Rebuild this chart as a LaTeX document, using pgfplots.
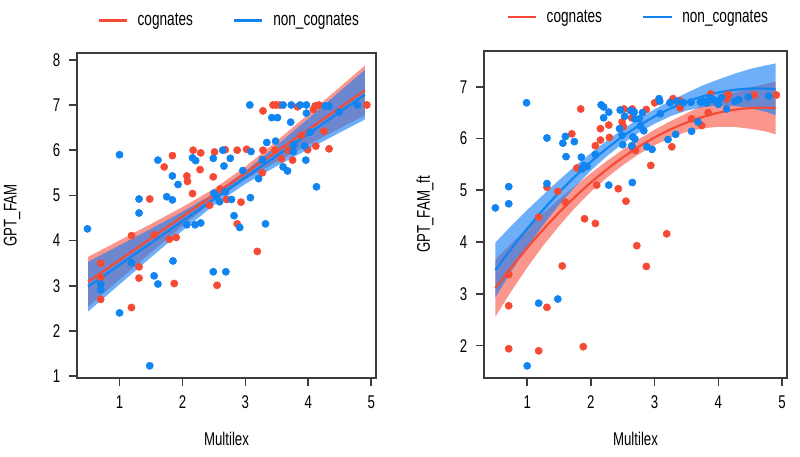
\documentclass[border=0pt]{standalone}
\usepackage{fontspec}
\setmainfont{Liberation Sans}[FakeStretch=0.72]
\usepackage{pgfplots}
\pgfplotsset{compat=1.18}

\definecolor{cogred}{RGB}{246,74,52}
\definecolor{nonblue}{RGB}{16,132,240}
\definecolor{redband}{RGB}{247,80,63}
\definecolor{blueband}{RGB}{21,126,247}
\definecolor{boxgray}{RGB}{60,60,60}

\pgfplotsset{
  panel/.style={
    scale only axis,
    clip=false,
    axis lines=box,
    axis line style={draw=boxgray, line width=1.3pt},
    tick style={draw=boxgray, line width=1.2pt},
    tick align=outside,
    major tick length=6pt,
    xtick pos=left, ytick pos=left,
    xtick={1,2,3,4,5},
    /pgf/number format/assume math mode=true,
    xticklabel style={yshift=-4pt},
    yticklabel style={xshift=-3pt},
    xlabel={Multilex},
    legend columns=2,
    legend image code/.code={\draw[##1] (0pt,0pt) -- (21pt,0pt);},
    legend style={draw=none, fill=none, anchor=center,
      font=\fontsize{14.2}{16}\selectfont,
      /tikz/every odd column/.append style={column sep=5pt},
      /tikz/every even column/.append style={column sep=28pt}},
  },
  pts/.style={only marks, mark=*, mark size=2.7pt, forget plot},
  band/.style={draw=none, forget plot, fill=#1},
  boxline/.style={boxgray, line width=1.3pt, forget plot},
}

\begin{document}
\begin{tikzpicture}[font=\fontsize{13.8}{16}\selectfont]

% ---------------- GPT_FAM against Multilex (linear fit) ----------------
\begin{axis}[panel,
  at={(57.75pt,59.25pt)}, anchor=south west,
  width=224.25pt, height=243.75pt,
  xmin=0.324, xmax=5.076, ymin=0.96, ymax=8.15,
  ytick={1,2,3,4,5,6,7,8},
  ylabel={GPT\_FAM},
  xlabel style={at={(axis description cs:0.5,-0.1877)}, anchor=center},
  ylabel style={at={(axis description cs:-0.2174,0.5)}, anchor=center},
  legend style={at={(axis description cs:0.51,1.10)}},
]
\addlegendimage{cogred, line width=2.2pt}
\addlegendentry{cognates}
\addlegendimage{nonblue, line width=2.2pt}
\addlegendentry{non\_cognates}

\addplot[pts, color=cogred] coordinates {
(0.70,3.50)(0.70,3.18)(0.70,2.70)(1.19,4.11)(1.19,2.52)(1.31,3.42)(1.31,3.17)
(1.48,4.92)(1.55,4.13)(1.71,5.63)(1.79,4.03)(1.84,5.88)(1.87,3.05)(1.90,4.07)
(2.07,5.43)(2.08,5.31)(2.16,5.04)(2.17,6.00)(2.28,5.57)(2.29,5.94)(2.43,4.78)
(2.49,5.41)(2.51,5.96)(2.55,3.01)(2.60,5.14)(2.68,6.01)(2.70,4.91)(2.87,6.00)
(2.87,4.37)(2.93,4.85)(3.02,6.02)(3.19,3.76)(3.27,5.50)(3.28,6.87)(3.28,6.00)
(3.44,7.00)(3.49,7.00)(3.55,7.00)(3.47,6.00)(3.57,5.81)(3.68,6.00)(3.75,5.78)
(3.83,6.96)(3.89,6.33)(3.99,6.01)(4.08,6.90)(4.11,6.98)(4.12,6.09)(4.17,7.00)
(4.25,6.42)(4.33,6.03)(4.93,7.00)
};
\addplot[pts, color=nonblue] coordinates {
(0.49,4.26)(0.70,3.04)(0.70,2.91)(1.00,5.90)(1.00,2.40)(1.19,3.51)(1.31,4.92)
(1.31,4.61)(1.48,1.23)(1.55,3.22)(1.61,3.04)(1.61,5.78)(1.75,4.97)(1.84,5.43)
(1.84,4.90)(1.85,3.55)(1.93,5.24)(2.07,4.35)(2.16,5.83)(2.20,4.35)(2.21,5.77)
(2.29,4.39)(2.49,5.82)(2.49,3.31)(2.50,5.05)(2.54,4.97)(2.59,4.86)(2.68,5.08)
(2.64,6.00)(2.66,5.65)(2.69,3.31)(2.76,5.82)(2.78,4.91)(2.82,4.55)(2.91,4.29)
(2.96,5.55)(3.07,7.00)(3.08,4.95)(3.09,5.97)(3.21,5.37)(3.27,5.79)(3.32,4.37)
(3.34,6.17)(3.42,6.72)(3.48,6.20)(3.51,6.72)(3.60,7.00)(3.60,5.63)(3.67,5.54)
(3.72,6.62)(3.73,7.00)(3.76,5.97)(3.77,6.12)(3.87,7.00)(3.94,6.09)(3.96,5.78)
(3.97,7.00)(3.97,6.82)(4.03,6.40)(4.13,5.19)(4.27,6.98)(4.33,6.98)(4.49,6.84)
(4.78,7.00)
};

% confidence bands: upper edge left to right, then lower edge back
\addplot[band=redband, fill opacity=0.6] coordinates {
(0.5,3.640)(1,4.003)(1.5,4.368)(2,4.742)(2.5,5.144)(3,5.636)(3.5,6.205)(4,6.796)(4.5,7.393)(4.9,7.873)
(4.9,6.773)(4.5,6.483)(4,6.118)(3.5,5.747)(3,5.354)(2.5,4.884)(2,4.324)(1.5,3.736)(1,3.139)(0.5,2.540)};
\addplot[band=blueband, fill opacity=0.62] coordinates {
(0.5,3.530)(1,3.895)(1.5,4.262)(2,4.638)(2.5,5.042)(3,5.536)(3.5,6.107)(4,6.700)(4.5,7.299)(4.9,7.780)
(4.9,6.680)(4.5,6.389)(4,6.022)(3.5,5.649)(3,5.254)(2.5,4.782)(2,4.220)(1.5,3.630)(1,3.031)(0.5,2.430)};

% fitted lines
\addplot[cogred, line width=1.6pt, forget plot] coordinates {(0.5,3.090)(4.9,7.323)};
\addplot[nonblue, line width=1.6pt, forget plot] coordinates {(0.5,2.980)(4.9,7.230)};

% plot frame
\addplot[boxline] coordinates {(0.324,0.96)(5.076,0.96)(5.076,8.15)(0.324,8.15)(0.324,0.96)};
\end{axis}

% ---------------- GPT_FAM_ft against Multilex (quadratic fit) ----------------
\begin{axis}[panel,
  at={(363pt,59.25pt)}, anchor=south west,
  width=227.25pt, height=245.25pt,
  xmin=0.322, xmax=5.078, ymin=1.375, ymax=7.69,
  ytick={2,3,4,5,6,7},
  ylabel={GPT\_FAM\_ft},
  xlabel style={at={(axis description cs:0.5,-0.1865)}, anchor=center},
  ylabel style={at={(axis description cs:-0.1947,0.5)}, anchor=center},
  legend style={at={(axis description cs:0.51,1.104)}},
]
\addlegendimage{cogred, line width=2.2pt}
\addlegendentry{cognates}
\addlegendimage{nonblue, line width=2.2pt}
\addlegendentry{non\_cognates}

\addplot[pts, color=cogred] coordinates {
(0.71,3.37)(0.71,2.77)(0.71,1.94)(1.18,1.90)(1.18,4.48)(1.31,2.74)(1.31,5.06)
(1.48,4.98)(1.55,3.54)(1.60,4.77)(1.70,6.09)(1.78,5.43)(1.84,6.57)(1.88,1.98)
(1.90,4.45)(2.07,4.36)(2.07,5.86)(2.09,5.10)(2.15,6.19)(2.15,5.97)(2.28,6.26)
(2.29,6.02)(2.43,5.03)(2.49,6.32)(2.51,6.23)(2.52,6.57)(2.55,4.79)(2.64,6.40)
(2.65,6.57)(2.66,5.81)(2.70,5.77)(2.72,3.93)(2.87,3.53)(2.87,6.56)(2.94,5.48)
(3.00,6.69)(3.19,4.16)(3.27,5.84)(3.27,6.73)(3.29,6.77)(3.40,6.59)(3.40,6.73)
(3.58,6.38)(3.74,6.25)(3.84,6.50)(3.88,6.86)(4.09,6.80)(4.13,6.77)(4.16,6.85)
(4.56,6.84)(4.91,6.84)
};
\addplot[pts, color=nonblue] coordinates {
(0.50,4.66)(0.71,5.07)(0.71,4.74)(0.99,6.69)(1.00,1.61)(1.18,2.82)(1.31,6.01)
(1.31,5.13)(1.48,2.90)(1.56,5.91)(1.60,6.04)(1.61,5.65)(1.74,5.94)(1.85,5.64)
(1.86,5.41)(1.89,5.48)(1.94,5.46)(2.07,5.69)(2.16,6.65)(2.20,6.61)(2.20,6.40)
(2.28,6.51)(2.28,5.10)(2.45,6.19)(2.46,6.55)(2.49,6.06)(2.50,5.88)(2.53,6.43)
(2.62,6.54)(2.64,5.86)(2.65,5.15)(2.66,6.03)(2.68,6.51)(2.69,6.38)(2.69,5.99)
(2.76,6.38)(2.78,6.24)(2.81,6.50)(2.83,6.15)(2.88,5.84)(2.96,5.79)(3.07,6.77)
(3.08,6.72)(3.09,6.48)(3.21,5.98)(3.24,6.69)(3.33,6.08)(3.35,6.72)(3.45,6.69)
(3.57,6.70)(3.58,6.14)(3.68,6.32)(3.72,6.70)(3.77,6.72)(3.82,6.69)(3.87,6.79)
(3.92,6.75)(3.98,6.72)(4.00,6.66)(4.05,6.79)(4.13,6.57)(4.26,6.72)(4.32,6.75)
(4.47,6.80)(4.79,6.82)
};

% confidence bands: upper edge left to right, then lower edge back
\addplot[band=redband, fill opacity=0.6] coordinates {
(0.5,3.660)(0.75,3.971)(1,4.268)(1.25,4.551)(1.5,4.829)(1.75,5.082)(2,5.331)
(2.25,5.565)(2.5,5.784)(2.75,5.985)(3,6.170)(3.25,6.336)(3.5,6.487)(3.75,6.634)
(4,6.767)(4.25,6.884)(4.5,6.988)(4.75,7.056)(4.9,7.100)
(4.9,6.080)(4.75,6.136)(4.5,6.188)(4.25,6.224)(4,6.227)(3.75,6.194)(3.5,6.127)
(3.25,6.016)(3,5.870)(2.75,5.695)(2.5,5.484)(2.25,5.245)(2,4.971)(1.75,4.662)
(1.5,4.309)(1.25,3.931)(1,3.508)(0.75,3.051)(0.5,2.560)};
\addplot[band=blueband, fill opacity=0.62] coordinates {
(0.5,3.990)(0.75,4.313)(1,4.620)(1.25,4.911)(1.5,5.197)(1.75,5.466)(2,5.720)
(2.25,5.958)(2.5,6.180)(2.75,6.381)(3,6.566)(3.25,6.730)(3.5,6.879)(3.75,7.022)
(4,7.139)(4.25,7.249)(4.5,7.344)(4.75,7.413)(4.9,7.450)
(4.9,6.450)(4.75,6.513)(4.5,6.584)(4.25,6.629)(4,6.639)(3.75,6.602)(3.5,6.539)
(3.25,6.430)(3,6.286)(2.75,6.111)(2.5,5.900)(2.25,5.658)(2,5.380)(1.75,5.066)
(1.5,4.717)(1.25,4.331)(1,3.900)(0.75,3.433)(0.5,2.930)};

% fitted curves
\addplot[cogred, line width=1.6pt, smooth, forget plot] coordinates {
(0.5,3.110)(0.75,3.511)(1,3.888)(1.25,4.241)(1.5,4.569)(1.75,4.872)(2,5.151)
(2.25,5.405)(2.5,5.634)(2.75,5.840)(3,6.020)(3.25,6.176)(3.5,6.307)(3.75,6.414)
(4,6.497)(4.25,6.554)(4.5,6.588)(4.75,6.596)(4.9,6.590)};
\addplot[nonblue, line width=1.6pt, smooth, forget plot] coordinates {
(0.5,3.460)(0.75,3.873)(1,4.260)(1.25,4.621)(1.5,4.957)(1.75,5.266)(2,5.550)
(2.25,5.808)(2.5,6.040)(2.75,6.246)(3,6.426)(3.25,6.580)(3.5,6.709)(3.75,6.812)
(4,6.889)(4.25,6.939)(4.5,6.964)(4.75,6.963)(4.9,6.950)};

% plot frame
\addplot[boxline] coordinates {(0.322,1.375)(5.078,1.375)(5.078,7.69)(0.322,7.69)(0.322,1.375)};
\end{axis}

% page frame
\pgfresetboundingbox
\path[use as bounding box] (0,0) rectangle (600pt,342.75pt);
\end{tikzpicture}
\end{document}
